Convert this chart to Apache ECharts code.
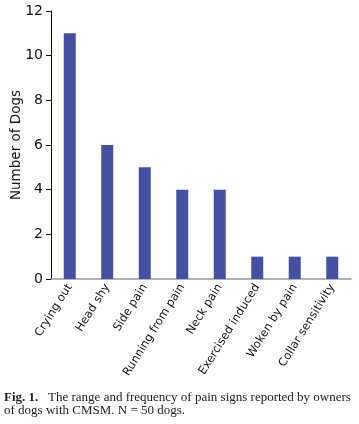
<!DOCTYPE html>
<html><head><meta charset="utf-8">
<script src="https://cdn.jsdelivr.net/npm/echarts@6/dist/echarts.min.js"></script>
<style>html,body{margin:0;padding:0;background:#fff}#c{width:359px;height:424px}</style>
</head><body><div id="c"></div>
<script>
const categories = ["Crying out","Head shy","Side pain","Running from pain","Neck pain","Exercised induced","Woken by pain","Collar sensitivity"];
const counts = [11,6,5,4,4,1,1,1];
const yTicks = [0,2,4,6,8,10,12];

const chart = echarts.init(document.getElementById('c'));
chart.setOption({
  animation:false,
  grid:{left:51,top:11,right:8,bottom:145,containLabel:false,outerBoundsMode:'none'},
  xAxis:{type:'category',data:categories,
    axisLine:{lineStyle:{color:'#999',width:1.5}},
    axisTick:{show:false},
    axisLabel:{rotate:58,interval:0,color:'#111',fontFamily:'DejaVu Sans',fontSize:11.5,margin:6}},
  yAxis:{type:'value',min:0,max:12,interval:2,
    name:'Number of Dogs',nameLocation:'middle',nameGap:28,nameMoveOverlap:false,
    nameTextStyle:{color:'#111',fontFamily:'DejaVu Sans',fontSize:13.5},
    axisLine:{show:true,lineStyle:{color:'#111',width:1}},
    axisTick:{show:true,length:5,lineStyle:{color:'#111'}},
    splitLine:{show:false},
    axisLabel:{color:'#111',fontFamily:'DejaVu Sans',fontSize:14,margin:8,
      formatter:v=>yTicks.includes(v)?String(v):''}},
  series:[{type:'bar',data:counts,barWidth:12,itemStyle:{color:'#4451A3'}}],
  graphic:[
    {type:'text',left:4,top:391,style:{rich:{b:{fontWeight:'bold',fontFamily:'Liberation Serif',fontSize:13,fill:'#222'},n:{fontFamily:'Liberation Serif',fontSize:13,fill:'#222'}},text:'{b|Fig. 1.}{n|   The range and frequency of pain signs reported by owners}'}},
    {type:'text',left:4,top:404,style:{text:'of dogs with CMSM. N = 50 dogs.',fontFamily:'Liberation Serif',fontSize:13,fill:'#222'}}
  ]
});
</script></body></html>
